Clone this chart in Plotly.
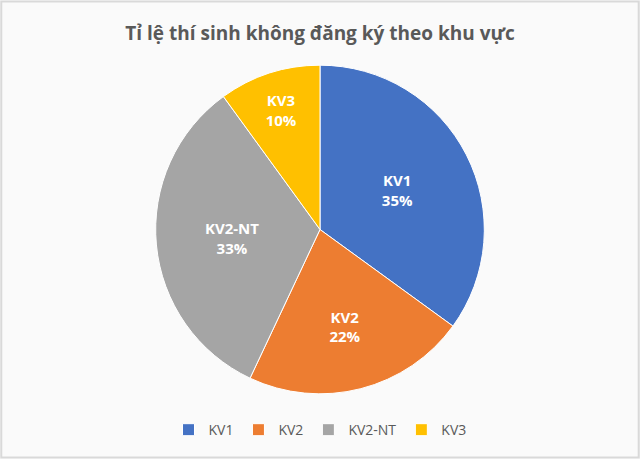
import plotly.graph_objects as go

labels = ["KV1", "KV2", "KV2-NT", "KV3"]
values = [35, 22, 33, 10]
colors = ["#4472C4", "#ED7D31", "#A5A5A5", "#FFC000"]
title_text = "Tỉ lệ thí sinh không đăng ký theo khu vực"

fig = go.Figure(go.Pie(
    labels=labels,
    values=values,
    sort=False,
    direction="clockwise",
    rotation=0,
    marker=dict(colors=colors, line=dict(color="white", width=1)),
    texttemplate="<b>%{label}<br>%{percent:.0%}</b>",
    textposition="inside",
    insidetextorientation="horizontal",
    textfont=dict(color="white", size=15, family="Open Sans, Calibri, sans-serif"),
    domain=dict(x=[0.24, 0.76], y=[0.142, 0.858]),
    hoverinfo="label+percent",
))

fig.update_layout(
    width=640, height=459,
    margin=dict(l=0, r=0, t=0, b=0),
    paper_bgcolor="#FAFAFA",
    plot_bgcolor="#FAFAFA",
    title=dict(text="<b>" + title_text + "</b>", x=0.5, xanchor="center", y=0.928, yanchor="middle",
               font=dict(size=19, color="#595959", family="Open Sans, Calibri, sans-serif")),
    legend=dict(orientation="h", x=0.5, xanchor="center", y=0.063, yanchor="middle",
                font=dict(size=14, color="#595959", family="Open Sans, Calibri, sans-serif"),
                itemwidth=30, traceorder="normal"),
    shapes=[dict(type="rect", xref="paper", yref="paper", x0=0.002, y0=0.003, x1=0.998, y1=0.997,
                 line=dict(color="#D9D9D9", width=2))],
)

fig.write_html("out.html", config={"displayModeBar": False},
               post_script="document.body.style.margin='0';document.body.style.overflow='hidden';")
